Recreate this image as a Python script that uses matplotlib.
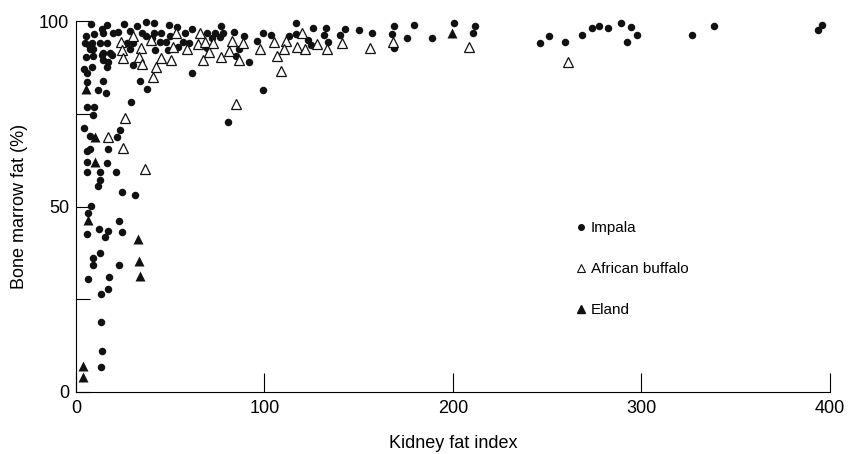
"""Bone marrow fat vs kidney fat index for three species"""
import matplotlib
matplotlib.use('Agg')
import matplotlib.pyplot as plt
from matplotlib.lines import Line2D

plt.rcParams['font.family'] = ['Liberation Sans', 'DejaVu Sans']

# Impala (filled circles)
impala_x = [8.0, 16.4, 13.8, 25.5, 32.4, 37.1, 41.4, 49.3, 53.6, 61.5,
            5.3, 9.5, 19.6, 14.3, 22.3, 28.6, 35.0, 37.1, 41.4, 45.1, 49.9, 57.8,
            4.8, 8.5, 12.7, 6.9, 16.4, 27.1, 30.2, 40.3, 44.6, 47.7, 56.8, 59.9, 54.1,
            7.4, 9.0, 28.6, 41.9, 48.8, 14.3, 18.0, 13.8, 5.3, 9.0, 19.1, 14.3, 17.0,
            16.4, 30.2, 4.2, 8.5, 5.8, 14.3, 34.0, 37.7, 5.8, 11.7, 15.9, 61.5, 29.2,
            5.8, 9.5, 9.0, 80.6, 4.2, 7.4, 23.3, 21.8,
            76.9, 69.5, 73.7, 78.0, 72.1, 76.4, 83.8, 89.1, 68.4, 69.5, 86.5, 84.9,
            91.8, 96.0, 99.2, 103.4, 113.0, 116.7, 116.7, 125.7, 132.6, 131.6, 123.1,
            124.7, 133.7, 142.7, 140.1, 150.1, 157.0, 168.7, 167.6, 168.7, 175.6,
            179.3, 188.9, 200.5, 211.7, 210.6, 99.2,
            246.2, 250.9, 259.4, 268.4, 273.7, 277.5, 282.2, 289.1, 292.3, 294.4,
            297.6, 326.8, 338.4, 393.6, 395.8,
            5.8, 7.4, 17.0, 5.8, 16.4, 5.8, 12.7, 21.2, 12.7, 11.7, 24.4, 31.3, 8.0,
            6.4, 22.8, 12.2, 17.0, 15.4, 24.4, 5.8, 12.7, 9.0, 9.0, 22.8, 6.4, 17.5,
            17.0, 13.3, 13.3, 13.8, 13.3]
impala_y = [99.2, 98.9, 97.8, 99.2, 98.7, 99.7, 99.5, 98.9, 98.4, 97.8,
            96.0, 96.5, 96.8, 96.8, 97.0, 97.3, 96.8, 96.0, 96.8, 96.8, 96.0, 96.8,
            94.1, 94.1, 94.1, 93.5, 94.1, 94.1, 94.1, 95.4, 94.3, 94.3, 94.3, 94.1, 93.0,
            92.5, 92.5, 92.5, 92.2, 92.2, 91.4, 91.4, 90.8, 90.3, 90.6, 90.8, 89.5, 88.9,
            87.6, 88.1, 87.1, 87.6, 86.0, 83.8, 83.8, 81.7, 83.6, 81.4, 80.6, 86.0, 78.2,
            76.8, 76.8, 74.7, 72.8, 71.2, 69.0, 70.6, 68.7,
            98.7, 96.8, 96.8, 96.8, 95.4, 95.7, 97.0, 96.0, 93.5, 92.7, 92.5, 90.6,
            88.9, 94.6, 96.8, 96.2, 96.0, 99.5, 96.5, 98.1, 98.1, 96.2, 94.9,
            93.5, 94.3, 97.8, 96.2, 97.6, 96.8, 98.7, 96.5, 92.7, 95.4,
            98.9, 95.4, 99.5, 98.7, 96.8, 81.4,
            94.1, 96.0, 94.3, 96.2, 98.1, 98.7, 98.1, 99.5, 94.3, 98.4,
            96.2, 96.2, 98.7, 97.6, 98.9,
            65.0, 65.5, 65.5, 62.0, 61.7, 59.3, 59.3, 59.3, 57.1, 55.5, 53.9, 53.1, 50.1,
            48.2, 46.1, 43.9, 43.4, 41.8, 43.1, 42.6, 37.5, 36.1, 34.2, 34.2, 30.5, 31.0,
            27.8, 26.4, 18.9, 11.1, 6.7]

# African buffalo (open triangles)
buffalo_x = [23.9, 30.2, 39.8, 53.1, 24.4, 34.5, 51.5, 58.9, 64.7, 24.9, 33.4,
             45.1, 50.4, 35.0, 42.4, 40.8, 26.0, 17.0, 65.8, 68.4,
             70.6, 67.4, 76.9, 81.2, 82.8, 88.6, 72.7, 86.5, 97.6, 105.0, 106.6,
             108.8, 111.4, 110.3, 119.9, 117.2, 121.5, 127.9, 133.2, 141.1, 156.0,
             168.2, 208.5, 84.9, 261.0, 24.9, 36.6]
buffalo_y = [94.3, 96.0, 94.9, 96.8, 92.2, 92.7, 93.0, 92.5, 93.8, 90.0, 90.3,
             90.0, 89.5, 88.4, 87.6, 84.9, 73.9, 68.7, 96.8, 94.3,
             91.6, 89.5, 90.3, 91.9, 94.6, 94.1, 94.1, 89.5, 92.5, 94.3, 90.6,
             86.5, 94.6, 92.5, 96.8, 93.0, 92.5, 93.8, 92.5, 94.1, 92.7,
             94.3, 93.0, 77.6, 88.9, 65.8, 60.1]

# Eland (filled triangles)
eland_x = [5.3, 10.1, 10.1, 6.4, 32.9, 33.4, 34.0, 3.7, 3.7, 199.5]
eland_y = [81.7, 68.7, 62.0, 46.4, 41.2, 35.3, 31.3, 7.0, 4.0, 96.8]

x_ticks = [0, 100, 200, 300, 400]
y_ticks = [0, 50, 100]
y_minor = [25, 75]

fig = plt.figure(figsize=(8.5, 4.54), dpi=100)
ax = fig.add_axes([0.0894, 0.1366, 0.887, 0.817])

ax.plot(impala_x, impala_y, 'o', color='#111111', ms=5.4, mec='none', clip_on=False)
ax.plot(buffalo_x, buffalo_y, '^', mfc='white', mec='#111111', mew=0.9, ms=7.5, clip_on=False)
ax.plot(eland_x, eland_y, '^', color='#111111', ms=7.8, mec='none', clip_on=False)

ax.set_xlim(0, 400)
ax.set_ylim(0, 100)
ax.spines['top'].set_visible(False)
ax.spines['right'].set_visible(False)
ax.set_xticks(x_ticks)
ax.set_yticks(y_ticks)
ax.set_yticks(y_minor, minor=True)
ax.tick_params(axis='x', direction='in', length=14, width=0.8, labelsize=13, pad=6)
ax.tick_params(axis='y', which='both', direction='in', length=10, width=0.8, labelsize=13, pad=5)
ax.set_xlabel('Kidney fat index', fontsize=13, labelpad=13)
ax.set_ylabel('Bone marrow fat (%)', fontsize=13, labelpad=8)

handles = [Line2D([], [], ls='none', marker='o', color='#111111', ms=4),
           Line2D([], [], ls='none', marker='^', mfc='white', mec='#111111', mew=0.8, ms=6),
           Line2D([], [], ls='none', marker='^', color='#111111', ms=6)]
ax.legend(handles, ['Impala', 'African buffalo', 'Eland'], loc='upper left',
          bbox_to_anchor=(0.644, 0.497), frameon=False, fontsize=11,
          labelspacing=1.75, handletextpad=0.2, handlelength=0.8)

plt.savefig('out.png', dpi=100)
